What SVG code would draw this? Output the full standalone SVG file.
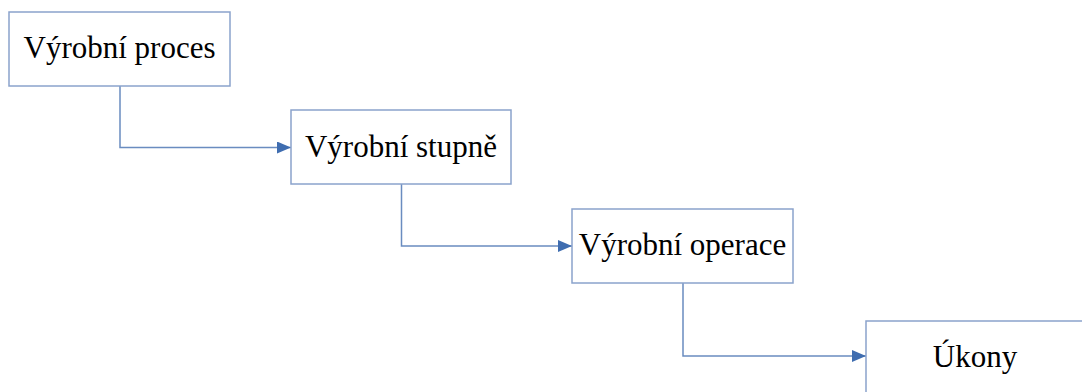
<svg xmlns="http://www.w3.org/2000/svg" width="1082" height="392" viewBox="0 0 1082 392">
<style>
.box{fill:#ffffff;stroke:#8aa3cc;stroke-width:1.5}
.lbl{font-family:"Liberation Serif","Times New Roman",serif;font-size:31px;fill:#000000;text-anchor:middle}
.conn{fill:none;stroke:#6a8cc0;stroke-width:1.5}
</style>
<defs>
<marker id="arr" markerWidth="14" markerHeight="12" refX="14" refY="6" orient="auto" markerUnits="userSpaceOnUse">
<path d="M0,0 L14,6 L0,12 Z" fill="#3f6db0"/>
</marker>
</defs>
<rect width="1082" height="392" fill="#ffffff"/>
<g id="connectors">
<path class="conn" d="M120,86 V147.5 H291" marker-end="url(#arr)"/>
<path class="conn" d="M401.5,184 V246 H572" marker-end="url(#arr)"/>
<path class="conn" d="M683,283 V356 H866" marker-end="url(#arr)"/>
</g>
<g id="node1">
<rect class="box" x="9" y="12" width="221" height="74"/>
<text class="lbl" x="119.5" y="57.5">Výrobní proces</text>
</g>
<g id="node2">
<rect class="box" x="291" y="110" width="220" height="74"/>
<text class="lbl" x="401" y="157">Výrobní stupně</text>
</g>
<g id="node3">
<rect class="box" x="572" y="209" width="221" height="74"/>
<text class="lbl" x="682.5" y="255">Výrobní operace</text>
</g>
<g id="node4">
<rect class="box" x="866" y="321" width="221" height="74"/>
<text class="lbl" x="975" y="366.5">Úkony</text>
</g>
</svg>
